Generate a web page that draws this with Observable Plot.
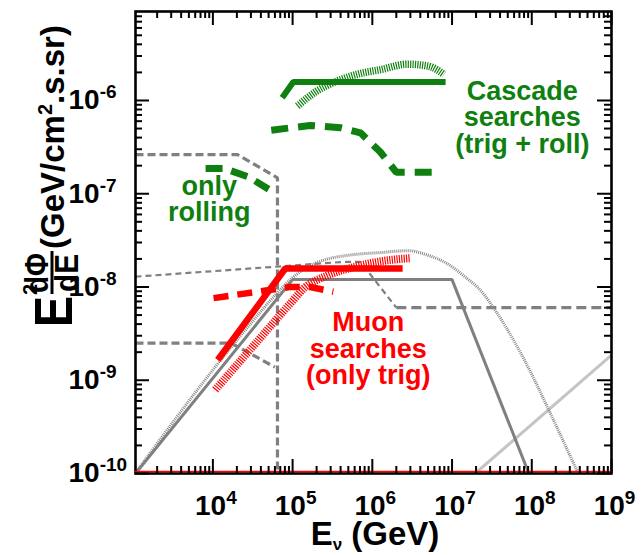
<!DOCTYPE html>
<html><head><meta charset="utf-8">
<script src="https://cdn.jsdelivr.net/npm/d3@7"></script>
<script src="https://cdn.jsdelivr.net/npm/@observablehq/plot@0.6"></script>
<style>body{margin:0;background:#fff;} svg{display:block}</style>
</head><body><div id="chart"></div>
<script>
// ---- data (E in GeV, flux E^2 dPhi/dE in GeV/cm^2/s/sr) ----
const greySolidE    = [1070, 1.0e5, 1.0e7, 9.2e7];
const greySolidF    = [1e-10, 1.2e-8, 1.2e-8, 1e-10];

const greyDottedE   = [1150, 1e4, 3.16e4, 6.3e4, 1e5, 1.58e5, 2.5e5, 5e5, 1.26e6, 2.8e6, 5e6, 8.7e6, 1.4e7, 2.3e7, 3.7e7, 5.9e7, 9.5e7, 1.58e8, 2.5e8, 3.7e8];
const greyDottedF   = [1.1e-10, 1.29e-9, 4.3e-9, 8.5e-9, 1.26e-8, 1.66e-8, 1.95e-8, 2.19e-8, 2.34e-8, 2.45e-8, 2.19e-8, 1.78e-8, 1.32e-8, 9.1e-9, 5.2e-9, 2.7e-9, 1.26e-9, 5.1e-10, 2.2e-10, 1.07e-10];

const greyThinDashE = [1070, 4.4e5, 7.1e5, 2.0e6];
const greyThinDashF = [1.29e-8, 1.86e-8, 1.86e-8, 6.0e-9];
const greyFlatE     = [2.0e6, 1e9];
const greyFlatF     = [6.0e-9, 6.0e-9];

const greyBoxHighE  = [1070, 2.04e4, 6.46e4, 6.46e4];
const greyBoxHighF  = [2.63e-7, 2.63e-7, 1.48e-7, 1e-10];
const greyBoxLowE   = [1070, 1.7e4, 6.0e4];
const greyBoxLowF   = [2.5e-9, 2.5e-9, 1.38e-9];

const lightGreyE    = [1.95e7, 1e9];
const lightGreyF    = [1e-10, 1.86e-9];

const redSolidE     = [1.15e4, 8.1e4, 2.4e6];
const redSolidF     = [1.65e-9, 1.58e-8, 1.58e-8];
const redDashE      = [1.02e4, 9.3e4, 1.66e5, 3.24e5];
const redDashF      = [7.6e-9, 1.0e-8, 1.0e-8, 8.9e-9];
const redHatchE     = [1.07e4, 3.16e4, 1.0e5, 1.41e5, 2.69e5, 6.31e5, 1.41e6, 3.02e6];
const redHatchF     = [7.9e-10, 2.29e-9, 7.1e-9, 9.8e-9, 1.32e-8, 1.66e-8, 1.91e-8, 2.04e-8];

const greenSolidE   = [7.4e4, 1.02e5, 8.3e6];
const greenSolidF   = [1.07e-6, 1.58e-6, 1.58e-6];
const greenHatchE   = [1.15e5, 2.0e5, 3.63e5, 7.08e5, 1.26e6, 2.75e6, 5.0e6, 7.94e6];
const greenHatchF   = [8.7e-7, 1.26e-6, 1.62e-6, 1.95e-6, 2.14e-6, 2.45e-6, 2.34e-6, 1.9e-6];
const greenDashE    = [5.4e4, 1.66e5, 4.0e5, 7.1e5, 1.26e6, 2.0e6, 7.1e6];
const greenDashF    = [4.8e-7, 5.4e-7, 5.1e-7, 4.5e-7, 2.8e-7, 1.7e-7, 1.7e-7];
const greenRollE    = [8.1e3, 1.41e4, 2.82e4, 5.0e4];
const greenRollF    = [1.86e-7, 1.86e-7, 1.51e-7, 1.12e-7];

const noteText  = ["Cascade\nsearches\n(trig + roll)", "only\nrolling", "Muon\nsearches\n(only trig)"];
const noteE     = [7.6e7, 9.0e3, 8.9e5];
const noteF     = [6.5e-7, 8.7e-8, 2.16e-9];
const noteColor = ["#0f800f", "#0f800f", "#ff0000"];

const xMajor = [1e4, 1e5, 1e6, 1e7, 1e8, 1e9];
const yMajor = [1e-10, 1e-9, 1e-8, 1e-7, 1e-6];

// ---- build ----
const X0 = 1070, X1 = 1e9, Y0 = 1e-10, Y1 = 9e-6;
const xMinor = [], yMinor = [];
for (let p = 3; p <= 8; p++) for (let k = 2; k <= 9; k++) { const v = k * 10 ** p; if (v > X0 && v < X1) xMinor.push(v); }
for (let p = -10; p <= -6; p++) for (let k = 2; k <= 9; k++) { const v = k * 10 ** p; if (v > Y0 && v < Y1) yMinor.push(v); }

const pts = (xs, ys) => xs.map((x, i) => ({x, y: ys[i]}));
const notes = noteText.map((t, i) => ({t, x: noteE[i], y: noteF[i], c: noteColor[i]}));

const GREEN = "#0f800f", RED = "#ff0000", GREY = "#808080";
const FONT = "'Liberation Sans', Arial, Helvetica, sans-serif";
const W = 643, H = 555, ML = 135, MR = 32, MT = 11, MB = 82;
const FW = W - ML - MR, FH = H - MT - MB;
const expFmt = d => "10^" + Math.round(Math.log10(d));

const L = (xs, ys, o) => Plot.line(pts(xs, ys), {x: "x", y: "y", clip: true, strokeLinecap: "butt", strokeLinejoin: "miter", ...o});

const plot = Plot.plot({
  width: W, height: H,
  marginLeft: ML, marginRight: MR, marginTop: MT, marginBottom: MB,
  x: {type: "log", domain: [X0, X1]},
  y: {type: "log", domain: [Y0, Y1]},
  style: {fontFamily: FONT, background: "#fff", overflow: "visible"},
  marks: [
    L(lightGreyE, lightGreyF, {stroke: "#c4c4c4", strokeWidth: 3}),
    L(greyBoxHighE, greyBoxHighF, {stroke: GREY, strokeWidth: 3.2, strokeDasharray: "8,4"}),
    L(greyBoxLowE, greyBoxLowF, {stroke: GREY, strokeWidth: 3.2, strokeDasharray: "8,4"}),
    L(greyThinDashE, greyThinDashF, {stroke: GREY, strokeWidth: 2.2, strokeDasharray: "6,4"}),
    L(greyFlatE, greyFlatF, {stroke: GREY, strokeWidth: 3.2, strokeDasharray: "10,5"}),
    L(greyDottedE, greyDottedF, {stroke: "#888", strokeWidth: 3, strokeDasharray: "1,1", curve: "monotone-x"}),
    L(greySolidE, greySolidF, {stroke: GREY, strokeWidth: 3}),
    L(redHatchE, redHatchF, {stroke: RED, strokeWidth: 8, strokeDasharray: "1.2,1.2", curve: "monotone-x"}),
    L(redDashE, redDashF, {stroke: RED, strokeWidth: 6.5, strokeDasharray: "15,9"}),
    L(redSolidE, redSolidF, {stroke: RED, strokeWidth: 6.5}),
    L(greenHatchE, greenHatchF, {stroke: GREEN, strokeWidth: 7.5, strokeDasharray: "1.2,1.2", curve: "monotone-x"}),
    L(greenSolidE, greenSolidF, {stroke: GREEN, strokeWidth: 6}),
    L(greenDashE, greenDashF, {stroke: GREEN, strokeWidth: 7, strokeDasharray: "17,10"}),
    L(greenRollE, greenRollF, {stroke: GREEN, strokeWidth: 7, strokeDasharray: "17,9"}),
    Plot.frame({stroke: "black", strokeWidth: 2.6}),
    Plot.ruleY([Y0], {stroke: RED, strokeWidth: 1.6, dy: -2}),
    Plot.tickX(xMajor, {x: d => d, insetTop: FH - 14, stroke: "black", strokeWidth: 2}),
    Plot.tickX(xMajor, {x: d => d, insetBottom: FH - 14, stroke: "black", strokeWidth: 2}),
    Plot.tickX(xMinor, {x: d => d, insetTop: FH - 7, stroke: "black", strokeWidth: 2}),
    Plot.tickX(xMinor, {x: d => d, insetBottom: FH - 7, stroke: "black", strokeWidth: 2}),
    Plot.tickY(yMajor, {y: d => d, insetRight: FW - 14, stroke: "black", strokeWidth: 2}),
    Plot.tickY(yMajor, {y: d => d, insetLeft: FW - 14, stroke: "black", strokeWidth: 2}),
    Plot.tickY(yMinor, {y: d => d, insetRight: FW - 7, stroke: "black", strokeWidth: 2}),
    Plot.tickY(yMinor, {y: d => d, insetLeft: FW - 7, stroke: "black", strokeWidth: 2}),
    Plot.text(notes, {x: "x", y: "y", text: "t", fill: "c", fontSize: 27, fontWeight: "bold", lineHeight: 0.98, lineAnchor: "middle", textAnchor: "middle"}),
    Plot.axisX(xMajor, {anchor: "bottom", tickSize: 0, tickPadding: 22, tickFormat: expFmt, fontSize: 28, fontWeight: "bold", label: null, dx: 3, fill: "black"}),
    Plot.axisY(yMajor, {anchor: "left", tickSize: 0, tickPadding: 67, textAnchor: "start", tickFormat: expFmt, fontSize: 28, fontWeight: "bold", label: null, fill: "black"})
  ]
});

document.getElementById("chart").appendChild(plot);

// superscript exponents in tick labels
plot.querySelectorAll('[aria-label="x-axis tick label"] text, [aria-label="y-axis tick label"] text').forEach(t => {
  const m = (t.textContent || "").match(/^10\^(-?\d+)$/);
  if (!m) return;
  t.textContent = "";
  const ns = "http://www.w3.org/2000/svg";
  const a = document.createElementNS(ns, "tspan"); a.textContent = "10"; t.appendChild(a);
  const b = document.createElementNS(ns, "tspan"); b.textContent = m[1];
  b.setAttribute("font-size", "19"); b.setAttribute("dy", "-11"); t.appendChild(b);
});

const svg = d3.select(plot);
// x axis title
const xt = svg.append("text").attr("x", 375).attr("y", 545).attr("text-anchor", "middle")
  .attr("font-family", FONT).attr("font-weight", "bold").attr("font-size", 33).attr("fill", "black");
xt.append("tspan").text("E");
xt.append("tspan").attr("font-size", 17).attr("dy", 5).text("ν");
xt.append("tspan").attr("dy", -5).text(" (GeV)");

// y axis title (rotated)
const g = svg.append("g").attr("transform", "rotate(-90)").attr("text-anchor", "start")
  .attr("font-family", FONT).attr("font-weight", "bold").attr("fill", "black");
g.append("text").attr("x", -327).attr("y", 72).attr("font-size", 54)
  .attr("textLength", 31).attr("lengthAdjust", "spacingAndGlyphs").text("E");
g.append("text").attr("x", -295).attr("y", 37).attr("font-size", 20).text("2");
g.append("text").attr("x", -293).attr("y", 48).attr("font-size", 34)
  .attr("textLength", 40).attr("lengthAdjust", "spacingAndGlyphs").text("dΦ");
g.append("line").attr("x1", -294).attr("x2", -251).attr("y1", 52).attr("y2", 52).attr("stroke", "black").attr("stroke-width", 3);
g.append("text").attr("x", -292).attr("y", 78).attr("font-size", 34)
  .attr("textLength", 38).attr("lengthAdjust", "spacingAndGlyphs").text("dE");
const yt = g.append("text").attr("x", -249).attr("y", 64).attr("font-size", 33);
yt.append("tspan").text("(GeV/cm");
yt.append("tspan").attr("font-size", 20).attr("dy", -12).text("2");
yt.append("tspan").attr("dy", 12).text(".s.sr)");
</script></body></html>
